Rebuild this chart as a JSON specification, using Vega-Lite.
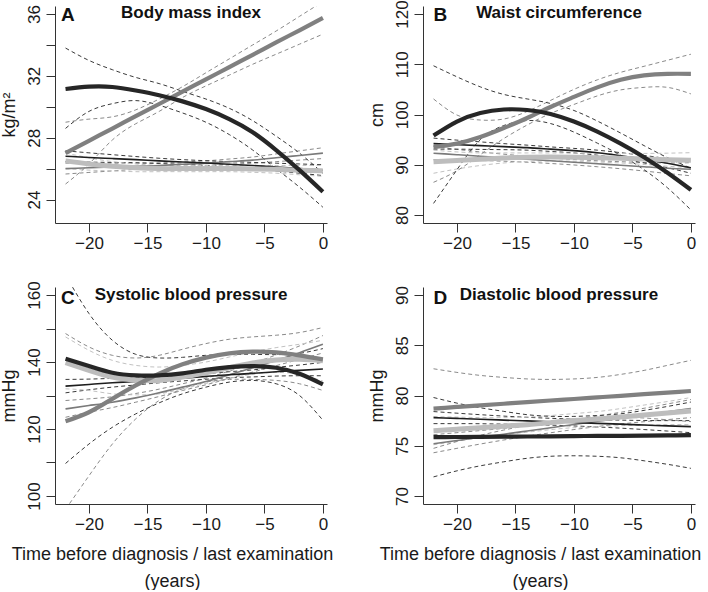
{
"$schema": "https://vega.github.io/schema/vega-lite/v6.json",
"padding": {"left": 0, "top": -1, "right": 5, "bottom": 0},
"config": {
 "font": "Liberation Sans",
 "view": {"stroke": null},
 "axis": {"grid": false, "domainColor": "#333", "tickColor": "#333", "labelColor": "#1a1a1a", "titleColor": "#1a1a1a", "labelFontSize": 17, "titleFontSize": 18, "titleFontWeight": "normal", "tickSize": 9, "labelPadding": 3, "labelFlush": false, "labelOverlap": false, "domainWidth": 1, "tickWidth": 1},
 "axisY": {"labelAngle": -90, "labelAlign": "center", "labelBaseline": "bottom", "titlePadding": 7},
 "text": {"color": "#111", "fontWeight": "bold", "baseline": "alphabetic"}
},
"datasets": {"d": [
{"p":"A","g":"s5","x":-22,"est":26.0,"lo":25.65,"hi":26.35},
{"p":"A","g":"s5","x":-20,"est":26.05,"lo":25.75,"hi":26.35},
{"p":"A","g":"s5","x":-18,"est":26.1,"lo":25.85,"hi":26.35},
{"p":"A","g":"s5","x":-16,"est":26.15,"lo":25.95,"hi":26.35},
{"p":"A","g":"s5","x":-14,"est":26.2,"lo":26.03,"hi":26.37},
{"p":"A","g":"s5","x":-12,"est":26.28,"lo":26.13,"hi":26.43},
{"p":"A","g":"s5","x":-10,"est":26.35,"lo":26.2,"hi":26.5},
{"p":"A","g":"s5","x":-8,"est":26.45,"lo":26.28,"hi":26.62},
{"p":"A","g":"s5","x":-6,"est":26.55,"lo":26.35,"hi":26.75},
{"p":"A","g":"s5","x":-4,"est":26.7,"lo":26.45,"hi":26.95},
{"p":"A","g":"s5","x":-2,"est":26.85,"lo":26.55,"hi":27.15},
{"p":"A","g":"s5","x":0,"est":27.0,"lo":26.65,"hi":27.35},
{"p":"A","g":"s4","x":-22,"est":26.8,"lo":26.45,"hi":27.15},
{"p":"A","g":"s4","x":-20,"est":26.72,"lo":26.42,"hi":27.02},
{"p":"A","g":"s4","x":-18,"est":26.65,"lo":26.4,"hi":26.9},
{"p":"A","g":"s4","x":-16,"est":26.58,"lo":26.38,"hi":26.78},
{"p":"A","g":"s4","x":-14,"est":26.5,"lo":26.33,"hi":26.67},
{"p":"A","g":"s4","x":-12,"est":26.43,"lo":26.28,"hi":26.58},
{"p":"A","g":"s4","x":-10,"est":26.36,"lo":26.21,"hi":26.51},
{"p":"A","g":"s4","x":-8,"est":26.28,"lo":26.11,"hi":26.45},
{"p":"A","g":"s4","x":-6,"est":26.2,"lo":26.0,"hi":26.4},
{"p":"A","g":"s4","x":-4,"est":26.1,"lo":25.85,"hi":26.35},
{"p":"A","g":"s4","x":-2,"est":26.0,"lo":25.7,"hi":26.3},
{"p":"A","g":"s4","x":0,"est":25.9,"lo":25.55,"hi":26.25},
{"p":"A","g":"s3","x":-22,"est":26.5,"lo":26.0,"hi":27.0},
{"p":"A","g":"s3","x":-20,"est":26.3,"lo":25.9,"hi":26.7},
{"p":"A","g":"s3","x":-18,"est":26.15,"lo":25.85,"hi":26.45},
{"p":"A","g":"s3","x":-16,"est":26.05,"lo":25.8,"hi":26.3},
{"p":"A","g":"s3","x":-14,"est":26.0,"lo":25.8,"hi":26.2},
{"p":"A","g":"s3","x":-12,"est":26.0,"lo":25.8,"hi":26.2},
{"p":"A","g":"s3","x":-10,"est":26.0,"lo":25.8,"hi":26.2},
{"p":"A","g":"s3","x":-8,"est":26.0,"lo":25.8,"hi":26.2},
{"p":"A","g":"s3","x":-6,"est":25.98,"lo":25.76,"hi":26.2},
{"p":"A","g":"s3","x":-4,"est":25.95,"lo":25.7,"hi":26.2},
{"p":"A","g":"s3","x":-2,"est":25.9,"lo":25.6,"hi":26.2},
{"p":"A","g":"s3","x":0,"est":25.85,"lo":25.5,"hi":26.2},
{"p":"A","g":"s2","x":-22,"est":27.0,"lo":25.0,"hi":29.0},
{"p":"A","g":"s2","x":-20,"est":27.8,"lo":26.3,"hi":29.2},
{"p":"A","g":"s2","x":-18,"est":28.59,"lo":27.85,"hi":29.35},
{"p":"A","g":"s2","x":-16,"est":29.39,"lo":28.9,"hi":29.8},
{"p":"A","g":"s2","x":-14,"est":30.18,"lo":29.7,"hi":30.5},
{"p":"A","g":"s2","x":-12,"est":30.98,"lo":30.6,"hi":31.3},
{"p":"A","g":"s2","x":-10,"est":31.77,"lo":31.35,"hi":32.2},
{"p":"A","g":"s2","x":-8,"est":32.57,"lo":32.05,"hi":33.1},
{"p":"A","g":"s2","x":-6,"est":33.36,"lo":32.75,"hi":34.0},
{"p":"A","g":"s2","x":-4,"est":34.16,"lo":33.4,"hi":34.9},
{"p":"A","g":"s2","x":-2,"est":34.95,"lo":34.05,"hi":35.85},
{"p":"A","g":"s2","x":0,"est":35.75,"lo":34.7,"hi":36.8},
{"p":"A","g":"s1","x":-22,"est":31.15,"lo":28.6,"hi":33.8},
{"p":"A","g":"s1","x":-20,"est":31.3,"lo":29.7,"hi":33.0},
{"p":"A","g":"s1","x":-18,"est":31.28,"lo":30.2,"hi":32.4},
{"p":"A","g":"s1","x":-16,"est":31.05,"lo":30.4,"hi":31.9},
{"p":"A","g":"s1","x":-14,"est":30.75,"lo":30.1,"hi":31.5},
{"p":"A","g":"s1","x":-12,"est":30.35,"lo":29.6,"hi":31.0},
{"p":"A","g":"s1","x":-10,"est":29.85,"lo":29.0,"hi":30.5},
{"p":"A","g":"s1","x":-8,"est":29.2,"lo":28.2,"hi":29.9},
{"p":"A","g":"s1","x":-6,"est":28.35,"lo":27.2,"hi":29.1},
{"p":"A","g":"s1","x":-4,"est":27.2,"lo":26.0,"hi":28.1},
{"p":"A","g":"s1","x":-2,"est":25.9,"lo":24.8,"hi":27.0},
{"p":"A","g":"s1","x":0,"est":24.5,"lo":23.5,"hi":25.7},
{"p":"B","g":"s5","x":-22,"est":92.3,"lo":91.0,"hi":93.6},
{"p":"B","g":"s5","x":-20,"est":92.0,"lo":90.95,"hi":93.05},
{"p":"B","g":"s5","x":-18,"est":91.7,"lo":90.85,"hi":92.55},
{"p":"B","g":"s5","x":-16,"est":91.4,"lo":90.7,"hi":92.1},
{"p":"B","g":"s5","x":-14,"est":91.1,"lo":90.5,"hi":91.7},
{"p":"B","g":"s5","x":-12,"est":90.8,"lo":90.25,"hi":91.35},
{"p":"B","g":"s5","x":-10,"est":90.5,"lo":89.95,"hi":91.05},
{"p":"B","g":"s5","x":-8,"est":90.2,"lo":89.6,"hi":90.8},
{"p":"B","g":"s5","x":-6,"est":89.9,"lo":89.2,"hi":90.6},
{"p":"B","g":"s5","x":-4,"est":89.6,"lo":88.75,"hi":90.45},
{"p":"B","g":"s5","x":-2,"est":89.3,"lo":88.25,"hi":90.35},
{"p":"B","g":"s5","x":0,"est":89.1,"lo":87.8,"hi":90.4},
{"p":"B","g":"s4","x":-22,"est":94.2,"lo":93.1,"hi":95.3},
{"p":"B","g":"s4","x":-20,"est":94.0,"lo":93.1,"hi":94.9},
{"p":"B","g":"s4","x":-18,"est":93.8,"lo":93.05,"hi":94.55},
{"p":"B","g":"s4","x":-16,"est":93.6,"lo":93.0,"hi":94.2},
{"p":"B","g":"s4","x":-14,"est":93.4,"lo":92.9,"hi":93.9},
{"p":"B","g":"s4","x":-12,"est":93.1,"lo":92.65,"hi":93.55},
{"p":"B","g":"s4","x":-10,"est":92.8,"lo":92.35,"hi":93.25},
{"p":"B","g":"s4","x":-8,"est":92.4,"lo":91.9,"hi":92.9},
{"p":"B","g":"s4","x":-6,"est":91.8,"lo":91.2,"hi":92.4},
{"p":"B","g":"s4","x":-4,"est":91.1,"lo":90.35,"hi":91.85},
{"p":"B","g":"s4","x":-2,"est":90.3,"lo":89.4,"hi":91.2},
{"p":"B","g":"s4","x":0,"est":89.4,"lo":88.3,"hi":90.5},
{"p":"B","g":"s3","x":-22,"est":90.6,"lo":88.3,"hi":92.9},
{"p":"B","g":"s3","x":-20,"est":90.85,"lo":89.15,"hi":92.55},
{"p":"B","g":"s3","x":-18,"est":91.1,"lo":89.85,"hi":92.35},
{"p":"B","g":"s3","x":-16,"est":91.35,"lo":90.35,"hi":92.35},
{"p":"B","g":"s3","x":-14,"est":91.5,"lo":90.65,"hi":92.35},
{"p":"B","g":"s3","x":-12,"est":91.55,"lo":90.75,"hi":92.35},
{"p":"B","g":"s3","x":-10,"est":91.5,"lo":90.7,"hi":92.3},
{"p":"B","g":"s3","x":-8,"est":91.4,"lo":90.55,"hi":92.25},
{"p":"B","g":"s3","x":-6,"est":91.3,"lo":90.35,"hi":92.25},
{"p":"B","g":"s3","x":-4,"est":91.15,"lo":90.05,"hi":92.25},
{"p":"B","g":"s3","x":-2,"est":91.0,"lo":89.7,"hi":92.3},
{"p":"B","g":"s3","x":0,"est":90.9,"lo":89.4,"hi":92.4},
{"p":"B","g":"s2","x":-22,"est":93.5,"lo":86.5,"hi":103.1},
{"p":"B","g":"s2","x":-20,"est":94.2,"lo":88.8,"hi":99.9},
{"p":"B","g":"s2","x":-18,"est":95.5,"lo":92.0,"hi":98.9},
{"p":"B","g":"s2","x":-16,"est":97.3,"lo":95.2,"hi":99.1},
{"p":"B","g":"s2","x":-14,"est":99.3,"lo":97.9,"hi":100.6},
{"p":"B","g":"s2","x":-12,"est":101.5,"lo":100.2,"hi":102.8},
{"p":"B","g":"s2","x":-10,"est":103.5,"lo":102.0,"hi":105.0},
{"p":"B","g":"s2","x":-8,"est":105.4,"lo":103.7,"hi":106.9},
{"p":"B","g":"s2","x":-6,"est":106.9,"lo":104.9,"hi":108.4},
{"p":"B","g":"s2","x":-4,"est":107.8,"lo":105.4,"hi":109.6},
{"p":"B","g":"s2","x":-2,"est":108.1,"lo":105.4,"hi":110.8},
{"p":"B","g":"s2","x":0,"est":108.1,"lo":104.1,"hi":112.0},
{"p":"B","g":"s1","x":-22,"est":95.8,"lo":82.3,"hi":109.7},
{"p":"B","g":"s1","x":-20,"est":98.6,"lo":89.0,"hi":107.5},
{"p":"B","g":"s1","x":-18,"est":100.3,"lo":95.0,"hi":105.5},
{"p":"B","g":"s1","x":-16,"est":101.0,"lo":97.8,"hi":104.0},
{"p":"B","g":"s1","x":-14,"est":100.9,"lo":98.8,"hi":103.1},
{"p":"B","g":"s1","x":-12,"est":100.1,"lo":98.2,"hi":102.2},
{"p":"B","g":"s1","x":-10,"est":98.6,"lo":96.5,"hi":100.8},
{"p":"B","g":"s1","x":-8,"est":96.6,"lo":94.3,"hi":98.7},
{"p":"B","g":"s1","x":-6,"est":94.2,"lo":91.9,"hi":96.3},
{"p":"B","g":"s1","x":-4,"est":91.5,"lo":89.0,"hi":93.8},
{"p":"B","g":"s1","x":-2,"est":88.4,"lo":85.4,"hi":91.4},
{"p":"B","g":"s1","x":0,"est":85.0,"lo":81.0,"hi":89.3},
{"p":"C","g":"s5","x":-22,"est":126.0,"lo":123.5,"hi":128.5},
{"p":"C","g":"s5","x":-20,"est":127.0,"lo":125.0,"hi":129.0},
{"p":"C","g":"s5","x":-18,"est":128.0,"lo":126.4,"hi":129.6},
{"p":"C","g":"s5","x":-16,"est":129.3,"lo":128.0,"hi":130.6},
{"p":"C","g":"s5","x":-14,"est":130.8,"lo":129.7,"hi":131.9},
{"p":"C","g":"s5","x":-12,"est":132.5,"lo":131.5,"hi":133.5},
{"p":"C","g":"s5","x":-10,"est":134.2,"lo":133.2,"hi":135.2},
{"p":"C","g":"s5","x":-8,"est":136.2,"lo":135.1,"hi":137.3},
{"p":"C","g":"s5","x":-6,"est":138.3,"lo":137.0,"hi":139.6},
{"p":"C","g":"s5","x":-4,"est":140.5,"lo":138.9,"hi":142.1},
{"p":"C","g":"s5","x":-2,"est":142.8,"lo":140.8,"hi":144.8},
{"p":"C","g":"s5","x":0,"est":145.3,"lo":142.7,"hi":147.9},
{"p":"C","g":"s4","x":-22,"est":132.8,"lo":130.8,"hi":134.8},
{"p":"C","g":"s4","x":-20,"est":133.3,"lo":131.7,"hi":134.9},
{"p":"C","g":"s4","x":-18,"est":133.8,"lo":132.5,"hi":135.1},
{"p":"C","g":"s4","x":-16,"est":134.2,"lo":133.15,"hi":135.25},
{"p":"C","g":"s4","x":-14,"est":134.7,"lo":133.8,"hi":135.6},
{"p":"C","g":"s4","x":-12,"est":135.2,"lo":134.35,"hi":136.05},
{"p":"C","g":"s4","x":-10,"est":135.7,"lo":134.85,"hi":136.55},
{"p":"C","g":"s4","x":-8,"est":136.2,"lo":135.3,"hi":137.1},
{"p":"C","g":"s4","x":-6,"est":136.6,"lo":135.55,"hi":137.65},
{"p":"C","g":"s4","x":-4,"est":137.1,"lo":135.8,"hi":138.4},
{"p":"C","g":"s4","x":-2,"est":137.5,"lo":135.9,"hi":139.1},
{"p":"C","g":"s4","x":0,"est":137.9,"lo":135.9,"hi":139.9},
{"p":"C","g":"s3","x":-22,"est":139.8,"lo":132.0,"hi":147.5},
{"p":"C","g":"s3","x":-20,"est":137.5,"lo":131.5,"hi":143.5},
{"p":"C","g":"s3","x":-18,"est":135.5,"lo":130.5,"hi":140.5},
{"p":"C","g":"s3","x":-16,"est":134.6,"lo":130.2,"hi":139.0},
{"p":"C","g":"s3","x":-14,"est":134.5,"lo":130.5,"hi":138.5},
{"p":"C","g":"s3","x":-12,"est":135.5,"lo":132.0,"hi":139.0},
{"p":"C","g":"s3","x":-10,"est":136.8,"lo":133.6,"hi":140.0},
{"p":"C","g":"s3","x":-8,"est":138.3,"lo":135.1,"hi":141.5},
{"p":"C","g":"s3","x":-6,"est":139.7,"lo":136.4,"hi":143.0},
{"p":"C","g":"s3","x":-4,"est":140.6,"lo":136.9,"hi":144.3},
{"p":"C","g":"s3","x":-2,"est":140.8,"lo":136.3,"hi":145.3},
{"p":"C","g":"s3","x":0,"est":140.4,"lo":134.3,"hi":146.5},
{"p":"C","g":"s2","x":-22,"est":122.3,"lo":96.0,"hi":148.5},
{"p":"C","g":"s2","x":-20,"est":125.0,"lo":106.0,"hi":144.5},
{"p":"C","g":"s2","x":-18,"est":129.0,"lo":115.5,"hi":142.0},
{"p":"C","g":"s2","x":-16,"est":133.0,"lo":123.0,"hi":141.2},
{"p":"C","g":"s2","x":-14,"est":136.5,"lo":128.5,"hi":142.0},
{"p":"C","g":"s2","x":-12,"est":139.3,"lo":132.0,"hi":143.8},
{"p":"C","g":"s2","x":-10,"est":141.3,"lo":134.0,"hi":145.5},
{"p":"C","g":"s2","x":-8,"est":142.6,"lo":134.8,"hi":146.8},
{"p":"C","g":"s2","x":-6,"est":143.1,"lo":134.8,"hi":147.5},
{"p":"C","g":"s2","x":-4,"est":142.9,"lo":134.5,"hi":148.0},
{"p":"C","g":"s2","x":-2,"est":142.0,"lo":133.5,"hi":148.8},
{"p":"C","g":"s2","x":0,"est":140.8,"lo":131.5,"hi":150.3},
{"p":"C","g":"s1","x":-22,"est":141.0,"lo":109.7,"hi":166.0},
{"p":"C","g":"s1","x":-20,"est":138.8,"lo":115.5,"hi":154.5},
{"p":"C","g":"s1","x":-18,"est":136.8,"lo":120.5,"hi":146.5},
{"p":"C","g":"s1","x":-16,"est":136.0,"lo":124.5,"hi":142.3},
{"p":"C","g":"s1","x":-14,"est":136.0,"lo":127.8,"hi":141.2},
{"p":"C","g":"s1","x":-12,"est":136.6,"lo":130.5,"hi":141.4},
{"p":"C","g":"s1","x":-10,"est":137.7,"lo":132.5,"hi":142.0},
{"p":"C","g":"s1","x":-8,"est":138.5,"lo":134.0,"hi":142.3},
{"p":"C","g":"s1","x":-6,"est":138.8,"lo":134.5,"hi":142.3},
{"p":"C","g":"s1","x":-4,"est":138.3,"lo":133.5,"hi":142.2},
{"p":"C","g":"s1","x":-2,"est":136.5,"lo":130.0,"hi":142.6},
{"p":"C","g":"s1","x":0,"est":133.3,"lo":122.6,"hi":144.0},
{"p":"D","g":"s5","x":-22,"est":75.2,"lo":74.3,"hi":76.1},
{"p":"D","g":"s5","x":-20,"est":75.52,"lo":74.74,"hi":76.3},
{"p":"D","g":"s5","x":-18,"est":75.84,"lo":75.17,"hi":76.51},
{"p":"D","g":"s5","x":-16,"est":76.15,"lo":75.57,"hi":76.73},
{"p":"D","g":"s5","x":-14,"est":76.47,"lo":75.95,"hi":76.99},
{"p":"D","g":"s5","x":-12,"est":76.79,"lo":76.29,"hi":77.29},
{"p":"D","g":"s5","x":-10,"est":77.11,"lo":76.61,"hi":77.61},
{"p":"D","g":"s5","x":-8,"est":77.43,"lo":76.91,"hi":77.95},
{"p":"D","g":"s5","x":-6,"est":77.75,"lo":77.17,"hi":78.33},
{"p":"D","g":"s5","x":-4,"est":78.06,"lo":77.39,"hi":78.73},
{"p":"D","g":"s5","x":-2,"est":78.38,"lo":77.6,"hi":79.16},
{"p":"D","g":"s5","x":0,"est":78.7,"lo":77.8,"hi":79.6},
{"p":"D","g":"s4","x":-22,"est":77.8,"lo":77.2,"hi":78.4},
{"p":"D","g":"s4","x":-20,"est":77.72,"lo":77.2,"hi":78.24},
{"p":"D","g":"s4","x":-18,"est":77.64,"lo":77.19,"hi":78.09},
{"p":"D","g":"s4","x":-16,"est":77.55,"lo":77.15,"hi":77.95},
{"p":"D","g":"s4","x":-14,"est":77.47,"lo":77.11,"hi":77.83},
{"p":"D","g":"s4","x":-12,"est":77.39,"lo":77.05,"hi":77.73},
{"p":"D","g":"s4","x":-10,"est":77.31,"lo":76.97,"hi":77.65},
{"p":"D","g":"s4","x":-8,"est":77.23,"lo":76.87,"hi":77.59},
{"p":"D","g":"s4","x":-6,"est":77.15,"lo":76.75,"hi":77.55},
{"p":"D","g":"s4","x":-4,"est":77.06,"lo":76.61,"hi":77.51},
{"p":"D","g":"s4","x":-2,"est":76.98,"lo":76.46,"hi":77.5},
{"p":"D","g":"s4","x":0,"est":76.9,"lo":76.3,"hi":77.5},
{"p":"D","g":"s3","x":-22,"est":76.5,"lo":75.1,"hi":77.9},
{"p":"D","g":"s3","x":-20,"est":76.65,"lo":75.45,"hi":77.85},
{"p":"D","g":"s3","x":-18,"est":76.8,"lo":75.8,"hi":77.8},
{"p":"D","g":"s3","x":-16,"est":76.95,"lo":76.1,"hi":77.8},
{"p":"D","g":"s3","x":-14,"est":77.1,"lo":76.35,"hi":77.85},
{"p":"D","g":"s3","x":-12,"est":77.3,"lo":76.6,"hi":78.0},
{"p":"D","g":"s3","x":-10,"est":77.5,"lo":76.8,"hi":78.2},
{"p":"D","g":"s3","x":-8,"est":77.65,"lo":76.9,"hi":78.4},
{"p":"D","g":"s3","x":-6,"est":77.85,"lo":77.0,"hi":78.7},
{"p":"D","g":"s3","x":-4,"est":78.05,"lo":77.05,"hi":79.05},
{"p":"D","g":"s3","x":-2,"est":78.25,"lo":77.1,"hi":79.4},
{"p":"D","g":"s3","x":0,"est":78.45,"lo":77.1,"hi":79.8},
{"p":"D","g":"s2","x":-22,"est":78.7,"lo":74.74,"hi":82.66},
{"p":"D","g":"s2","x":-20,"est":78.86,"lo":75.42,"hi":82.3},
{"p":"D","g":"s2","x":-18,"est":79.02,"lo":76.04,"hi":82.0},
{"p":"D","g":"s2","x":-16,"est":79.18,"lo":76.56,"hi":81.8},
{"p":"D","g":"s2","x":-14,"est":79.34,"lo":77.03,"hi":81.65},
{"p":"D","g":"s2","x":-12,"est":79.5,"lo":77.4,"hi":81.6},
{"p":"D","g":"s2","x":-10,"est":79.65,"lo":77.65,"hi":81.65},
{"p":"D","g":"s2","x":-8,"est":79.81,"lo":77.82,"hi":81.8},
{"p":"D","g":"s2","x":-6,"est":79.97,"lo":77.84,"hi":82.1},
{"p":"D","g":"s2","x":-4,"est":80.13,"lo":77.76,"hi":82.5},
{"p":"D","g":"s2","x":-2,"est":80.29,"lo":77.58,"hi":83.0},
{"p":"D","g":"s2","x":0,"est":80.45,"lo":77.4,"hi":83.5},
{"p":"D","g":"s1","x":-22,"est":75.85,"lo":71.9,"hi":79.8},
{"p":"D","g":"s1","x":-20,"est":75.87,"lo":72.5,"hi":79.24},
{"p":"D","g":"s1","x":-18,"est":75.89,"lo":73.0,"hi":78.78},
{"p":"D","g":"s1","x":-16,"est":75.91,"lo":73.4,"hi":78.42},
{"p":"D","g":"s1","x":-14,"est":75.92,"lo":73.75,"hi":78.09},
{"p":"D","g":"s1","x":-12,"est":75.94,"lo":73.95,"hi":77.93},
{"p":"D","g":"s1","x":-10,"est":75.96,"lo":74.0,"hi":77.92},
{"p":"D","g":"s1","x":-8,"est":75.98,"lo":73.95,"hi":78.01},
{"p":"D","g":"s1","x":-6,"est":75.99,"lo":73.8,"hi":78.18},
{"p":"D","g":"s1","x":-4,"est":76.01,"lo":73.5,"hi":78.52},
{"p":"D","g":"s1","x":-2,"est":76.03,"lo":73.15,"hi":78.91},
{"p":"D","g":"s1","x":0,"est":76.05,"lo":72.75,"hi":79.35}
]},
"columns": 2,
"bounds": "flush",
"spacing": {"column": 96, "row": 64},
"concat": [
 {
  "width": 272, "height": 217,
  "data": {"name": "d"},
  "resolve": {"scale": {"color": "independent"}},
  "layer": [
   {"transform": [{"filter": "datum.p == 'A'"}, {"fold": ["lo", "hi"], "as": ["k", "v"]}],
    "mark": {"type": "line", "strokeWidth": 1, "strokeDash": [4, 3], "interpolate": "natural", "clip": true},
    "encoding": {
     "x": {"field": "x", "type": "quantitative", "scale": {"domain": [-22.9, 0.35], "nice": false, "zero": false}, "axis": {"values": [-20, -15, -10, -5, 0], "title": null}},
     "y": {"field": "v", "type": "quantitative", "scale": {"domain": [22.48, 36.52], "nice": false, "zero": false}, "axis": {"values": [24, 26, 28, 30, 32, 34, 36], "labelExpr": "datum.value % 4 == 0 ? datum.label : ''", "title": "kg/m²"}},
     "detail": {"field": "k"},
     "color": {"field": "g", "type": "nominal", "scale": {"domain": ["s1", "s2", "s3", "s4", "s5"], "range": ["#3a3a3a", "#8a8a8a", "#c2c2c2", "#3a3a3a", "#8a8a8a"]}, "legend": null}
    }},
   {"transform": [{"filter": "datum.p == 'A' && (datum.g == 's4' || datum.g == 's5')"}],
    "mark": {"type": "line", "interpolate": "natural", "clip": true, "strokeWidth": 1.6},
    "encoding": {
     "x": {"field": "x", "type": "quantitative", "scale": {"domain": [-22.9, 0.35], "nice": false, "zero": false}, "axis": {"values": [-20, -15, -10, -5, 0], "title": null}},
     "y": {"field": "est", "type": "quantitative", "scale": {"domain": [22.48, 36.52], "nice": false, "zero": false}, "axis": {"values": [24, 26, 28, 30, 32, 34, 36], "labelExpr": "datum.value % 4 == 0 ? datum.label : ''", "title": "kg/m²"}},
     "color": {"field": "g", "type": "nominal", "scale": {"domain": ["s4", "s5"], "range": ["#1e1e1e", "#7a7a7a"]}, "legend": null}
    }},
   {"transform": [{"filter": "datum.p == 'A' && (datum.g == 's1' || datum.g == 's2' || datum.g == 's3')"}],
    "mark": {"type": "line", "interpolate": "natural", "clip": true},
    "encoding": {
     "x": {"field": "x", "type": "quantitative", "scale": {"domain": [-22.9, 0.35], "nice": false, "zero": false}, "axis": {"values": [-20, -15, -10, -5, 0], "title": null}},
     "y": {"field": "est", "type": "quantitative", "scale": {"domain": [22.48, 36.52], "nice": false, "zero": false}, "axis": {"values": [24, 26, 28, 30, 32, 34, 36], "labelExpr": "datum.value % 4 == 0 ? datum.label : ''", "title": "kg/m²"}},
     "color": {"field": "g", "type": "nominal", "scale": {"domain": ["s1", "s2", "s3"], "range": ["#262626", "#808080", "#bdbdbd"]}, "legend": null},
     "strokeWidth": {"condition": {"test": "datum.g == 's3'", "value": 5}, "value": 4.2}
    }},
   {"data": {"values": [{}]},
    "mark": {"type": "text", "text": "A", "fontSize": 19, "align": "left", "dx": -4.5},
    "encoding": {
     "x": {"datum": -22, "type": "quantitative", "axis": {"values": [-20, -15, -10, -5, 0], "title": null}},
     "y": {"datum": 35.55, "type": "quantitative", "axis": {"values": [24, 26, 28, 30, 32, 34, 36], "labelExpr": "datum.value % 4 == 0 ? datum.label : ''", "title": "kg/m²"}}
    }},
   {"data": {"values": [{}]},
    "mark": {"type": "text", "text": "Body mass index", "fontSize": 17, "align": "center"},
    "encoding": {
     "x": {"datum": -11.275, "type": "quantitative", "axis": {"values": [-20, -15, -10, -5, 0], "title": null}},
     "y": {"datum": 35.74, "type": "quantitative", "axis": {"values": [24, 26, 28, 30, 32, 34, 36], "labelExpr": "datum.value % 4 == 0 ? datum.label : ''", "title": "kg/m²"}}
    }}
  ]
 },
 {
  "width": 272, "height": 217,
  "data": {"name": "d"},
  "resolve": {"scale": {"color": "independent"}},
  "layer": [
   {"transform": [{"filter": "datum.p == 'B'"}, {"fold": ["lo", "hi"], "as": ["k", "v"]}],
    "mark": {"type": "line", "strokeWidth": 1, "strokeDash": [4, 3], "interpolate": "natural", "clip": true},
    "encoding": {
     "x": {"field": "x", "type": "quantitative", "scale": {"domain": [-22.9, 0.35], "nice": false, "zero": false}, "axis": {"values": [-20, -15, -10, -5, 0], "title": null}},
     "y": {"field": "v", "type": "quantitative", "scale": {"domain": [78.4, 121.6], "nice": false, "zero": false}, "axis": {"values": [80, 90, 100, 110, 120], "title": "cm"}},
     "detail": {"field": "k"},
     "color": {"field": "g", "type": "nominal", "scale": {"domain": ["s1", "s2", "s3", "s4", "s5"], "range": ["#3a3a3a", "#8a8a8a", "#c2c2c2", "#3a3a3a", "#8a8a8a"]}, "legend": null}
    }},
   {"transform": [{"filter": "datum.p == 'B' && (datum.g == 's4' || datum.g == 's5')"}],
    "mark": {"type": "line", "interpolate": "natural", "clip": true, "strokeWidth": 1.6},
    "encoding": {
     "x": {"field": "x", "type": "quantitative", "scale": {"domain": [-22.9, 0.35], "nice": false, "zero": false}, "axis": {"values": [-20, -15, -10, -5, 0], "title": null}},
     "y": {"field": "est", "type": "quantitative", "scale": {"domain": [78.4, 121.6], "nice": false, "zero": false}, "axis": {"values": [80, 90, 100, 110, 120], "title": "cm"}},
     "color": {"field": "g", "type": "nominal", "scale": {"domain": ["s4", "s5"], "range": ["#1e1e1e", "#7a7a7a"]}, "legend": null}
    }},
   {"transform": [{"filter": "datum.p == 'B' && (datum.g == 's1' || datum.g == 's2' || datum.g == 's3')"}],
    "mark": {"type": "line", "interpolate": "natural", "clip": true},
    "encoding": {
     "x": {"field": "x", "type": "quantitative", "scale": {"domain": [-22.9, 0.35], "nice": false, "zero": false}, "axis": {"values": [-20, -15, -10, -5, 0], "title": null}},
     "y": {"field": "est", "type": "quantitative", "scale": {"domain": [78.4, 121.6], "nice": false, "zero": false}, "axis": {"values": [80, 90, 100, 110, 120], "title": "cm"}},
     "color": {"field": "g", "type": "nominal", "scale": {"domain": ["s1", "s2", "s3"], "range": ["#262626", "#808080", "#bdbdbd"]}, "legend": null},
     "strokeWidth": {"condition": {"test": "datum.g == 's3'", "value": 5}, "value": 4.2}
    }},
   {"data": {"values": [{}]},
    "mark": {"type": "text", "text": "B", "fontSize": 19, "align": "left", "dx": 0},
    "encoding": {
     "x": {"datum": -22, "type": "quantitative", "axis": {"values": [-20, -15, -10, -5, 0], "title": null}},
     "y": {"datum": 118.6, "type": "quantitative", "axis": {"values": [80, 90, 100, 110, 120], "title": "cm"}}
    }},
   {"data": {"values": [{}]},
    "mark": {"type": "text", "text": "Waist circumference", "fontSize": 17, "align": "center"},
    "encoding": {
     "x": {"datum": -11.275, "type": "quantitative", "axis": {"values": [-20, -15, -10, -5, 0], "title": null}},
     "y": {"datum": 119.21, "type": "quantitative", "axis": {"values": [80, 90, 100, 110, 120], "title": "cm"}}
    }}
  ]
 },
 {
  "width": 272, "height": 217,
  "data": {"name": "d"},
  "resolve": {"scale": {"color": "independent"}},
  "layer": [
   {"transform": [{"filter": "datum.p == 'C'"}, {"fold": ["lo", "hi"], "as": ["k", "v"]}],
    "mark": {"type": "line", "strokeWidth": 1, "strokeDash": [4, 3], "interpolate": "natural", "clip": true},
    "encoding": {
     "x": {"field": "x", "type": "quantitative", "scale": {"domain": [-22.9, 0.35], "nice": false, "zero": false}, "axis": {"values": [-20, -15, -10, -5, 0], "title": ["Time before diagnosis / last examination", "(years)"], "titleFontSize": 18, "titleLineHeight": 27, "titlePadding": 13, "titleX": 117, "titleAlign": "center"}},
     "y": {"field": "v", "type": "quantitative", "scale": {"domain": [97.6, 162.4], "nice": false, "zero": false}, "axis": {"values": [100, 110, 120, 130, 140, 150, 160], "labelExpr": "datum.value % 20 == 0 ? datum.label : ''", "title": "mmHg"}},
     "detail": {"field": "k"},
     "color": {"field": "g", "type": "nominal", "scale": {"domain": ["s1", "s2", "s3", "s4", "s5"], "range": ["#3a3a3a", "#8a8a8a", "#c2c2c2", "#3a3a3a", "#8a8a8a"]}, "legend": null}
    }},
   {"transform": [{"filter": "datum.p == 'C' && (datum.g == 's4' || datum.g == 's5')"}],
    "mark": {"type": "line", "interpolate": "natural", "clip": true, "strokeWidth": 1.6},
    "encoding": {
     "x": {"field": "x", "type": "quantitative", "scale": {"domain": [-22.9, 0.35], "nice": false, "zero": false}, "axis": {"values": [-20, -15, -10, -5, 0], "title": ["Time before diagnosis / last examination", "(years)"], "titleFontSize": 18, "titleLineHeight": 27, "titlePadding": 13, "titleX": 117, "titleAlign": "center"}},
     "y": {"field": "est", "type": "quantitative", "scale": {"domain": [97.6, 162.4], "nice": false, "zero": false}, "axis": {"values": [100, 110, 120, 130, 140, 150, 160], "labelExpr": "datum.value % 20 == 0 ? datum.label : ''", "title": "mmHg"}},
     "color": {"field": "g", "type": "nominal", "scale": {"domain": ["s4", "s5"], "range": ["#1e1e1e", "#7a7a7a"]}, "legend": null}
    }},
   {"transform": [{"filter": "datum.p == 'C' && (datum.g == 's1' || datum.g == 's2' || datum.g == 's3')"}],
    "mark": {"type": "line", "interpolate": "natural", "clip": true},
    "encoding": {
     "x": {"field": "x", "type": "quantitative", "scale": {"domain": [-22.9, 0.35], "nice": false, "zero": false}, "axis": {"values": [-20, -15, -10, -5, 0], "title": ["Time before diagnosis / last examination", "(years)"], "titleFontSize": 18, "titleLineHeight": 27, "titlePadding": 13, "titleX": 117, "titleAlign": "center"}},
     "y": {"field": "est", "type": "quantitative", "scale": {"domain": [97.6, 162.4], "nice": false, "zero": false}, "axis": {"values": [100, 110, 120, 130, 140, 150, 160], "labelExpr": "datum.value % 20 == 0 ? datum.label : ''", "title": "mmHg"}},
     "color": {"field": "g", "type": "nominal", "scale": {"domain": ["s1", "s2", "s3"], "range": ["#262626", "#808080", "#bdbdbd"]}, "legend": null},
     "strokeWidth": {"condition": {"test": "datum.g == 's3'", "value": 5}, "value": 4.2}
    }},
   {"data": {"values": [{}]},
    "mark": {"type": "text", "text": "C", "fontSize": 19, "align": "left", "dx": -4.5},
    "encoding": {
     "x": {"datum": -22, "type": "quantitative", "axis": {"values": [-20, -15, -10, -5, 0], "title": ["Time before diagnosis / last examination", "(years)"], "titleFontSize": 18, "titleLineHeight": 27, "titlePadding": 13, "titleX": 117, "titleAlign": "center"}},
     "y": {"datum": 157.32, "type": "quantitative", "axis": {"values": [100, 110, 120, 130, 140, 150, 160], "labelExpr": "datum.value % 20 == 0 ? datum.label : ''", "title": "mmHg"}}
    }},
   {"data": {"values": [{}]},
    "mark": {"type": "text", "text": "Systolic blood pressure", "fontSize": 17, "align": "center"},
    "encoding": {
     "x": {"datum": -11.275, "type": "quantitative", "axis": {"values": [-20, -15, -10, -5, 0], "title": ["Time before diagnosis / last examination", "(years)"], "titleFontSize": 18, "titleLineHeight": 27, "titlePadding": 13, "titleX": 117, "titleAlign": "center"}},
     "y": {"datum": 158.5, "type": "quantitative", "axis": {"values": [100, 110, 120, 130, 140, 150, 160], "labelExpr": "datum.value % 20 == 0 ? datum.label : ''", "title": "mmHg"}}
    }}
  ]
 },
 {
  "width": 272, "height": 217,
  "data": {"name": "d"},
  "resolve": {"scale": {"color": "independent"}},
  "layer": [
   {"transform": [{"filter": "datum.p == 'D'"}, {"fold": ["lo", "hi"], "as": ["k", "v"]}],
    "mark": {"type": "line", "strokeWidth": 1, "strokeDash": [4, 3], "interpolate": "natural", "clip": true},
    "encoding": {
     "x": {"field": "x", "type": "quantitative", "scale": {"domain": [-22.9, 0.35], "nice": false, "zero": false}, "axis": {"values": [-20, -15, -10, -5, 0], "title": ["Time before diagnosis / last examination", "(years)"], "titleFontSize": 18, "titleLineHeight": 27, "titlePadding": 13, "titleX": 117, "titleAlign": "center"}},
     "y": {"field": "v", "type": "quantitative", "scale": {"domain": [69.2, 90.8], "nice": false, "zero": false}, "axis": {"values": [70, 75, 80, 85, 90], "title": "mmHg"}},
     "detail": {"field": "k"},
     "color": {"field": "g", "type": "nominal", "scale": {"domain": ["s1", "s2", "s3", "s4", "s5"], "range": ["#3a3a3a", "#8a8a8a", "#c2c2c2", "#3a3a3a", "#8a8a8a"]}, "legend": null}
    }},
   {"transform": [{"filter": "datum.p == 'D' && (datum.g == 's4' || datum.g == 's5')"}],
    "mark": {"type": "line", "interpolate": "natural", "clip": true, "strokeWidth": 1.6},
    "encoding": {
     "x": {"field": "x", "type": "quantitative", "scale": {"domain": [-22.9, 0.35], "nice": false, "zero": false}, "axis": {"values": [-20, -15, -10, -5, 0], "title": ["Time before diagnosis / last examination", "(years)"], "titleFontSize": 18, "titleLineHeight": 27, "titlePadding": 13, "titleX": 117, "titleAlign": "center"}},
     "y": {"field": "est", "type": "quantitative", "scale": {"domain": [69.2, 90.8], "nice": false, "zero": false}, "axis": {"values": [70, 75, 80, 85, 90], "title": "mmHg"}},
     "color": {"field": "g", "type": "nominal", "scale": {"domain": ["s4", "s5"], "range": ["#1e1e1e", "#7a7a7a"]}, "legend": null}
    }},
   {"transform": [{"filter": "datum.p == 'D' && (datum.g == 's1' || datum.g == 's2' || datum.g == 's3')"}],
    "mark": {"type": "line", "interpolate": "natural", "clip": true},
    "encoding": {
     "x": {"field": "x", "type": "quantitative", "scale": {"domain": [-22.9, 0.35], "nice": false, "zero": false}, "axis": {"values": [-20, -15, -10, -5, 0], "title": ["Time before diagnosis / last examination", "(years)"], "titleFontSize": 18, "titleLineHeight": 27, "titlePadding": 13, "titleX": 117, "titleAlign": "center"}},
     "y": {"field": "est", "type": "quantitative", "scale": {"domain": [69.2, 90.8], "nice": false, "zero": false}, "axis": {"values": [70, 75, 80, 85, 90], "title": "mmHg"}},
     "color": {"field": "g", "type": "nominal", "scale": {"domain": ["s1", "s2", "s3"], "range": ["#262626", "#808080", "#bdbdbd"]}, "legend": null},
     "strokeWidth": {"condition": {"test": "datum.g == 's3'", "value": 5}, "value": 4.2}
    }},
   {"data": {"values": [{}]},
    "mark": {"type": "text", "text": "D", "fontSize": 19, "align": "left", "dx": 0},
    "encoding": {
     "x": {"datum": -22, "type": "quantitative", "axis": {"values": [-20, -15, -10, -5, 0], "title": ["Time before diagnosis / last examination", "(years)"], "titleFontSize": 18, "titleLineHeight": 27, "titlePadding": 13, "titleX": 117, "titleAlign": "center"}},
     "y": {"datum": 89.11, "type": "quantitative", "axis": {"values": [70, 75, 80, 85, 90], "title": "mmHg"}}
    }},
   {"data": {"values": [{}]},
    "mark": {"type": "text", "text": "Diastolic blood pressure", "fontSize": 17, "align": "center"},
    "encoding": {
     "x": {"datum": -11.275, "type": "quantitative", "axis": {"values": [-20, -15, -10, -5, 0], "title": ["Time before diagnosis / last examination", "(years)"], "titleFontSize": 18, "titleLineHeight": 27, "titlePadding": 13, "titleX": 117, "titleAlign": "center"}},
     "y": {"datum": 89.5, "type": "quantitative", "axis": {"values": [70, 75, 80, 85, 90], "title": "mmHg"}}
    }}
  ]
 }
]
}
